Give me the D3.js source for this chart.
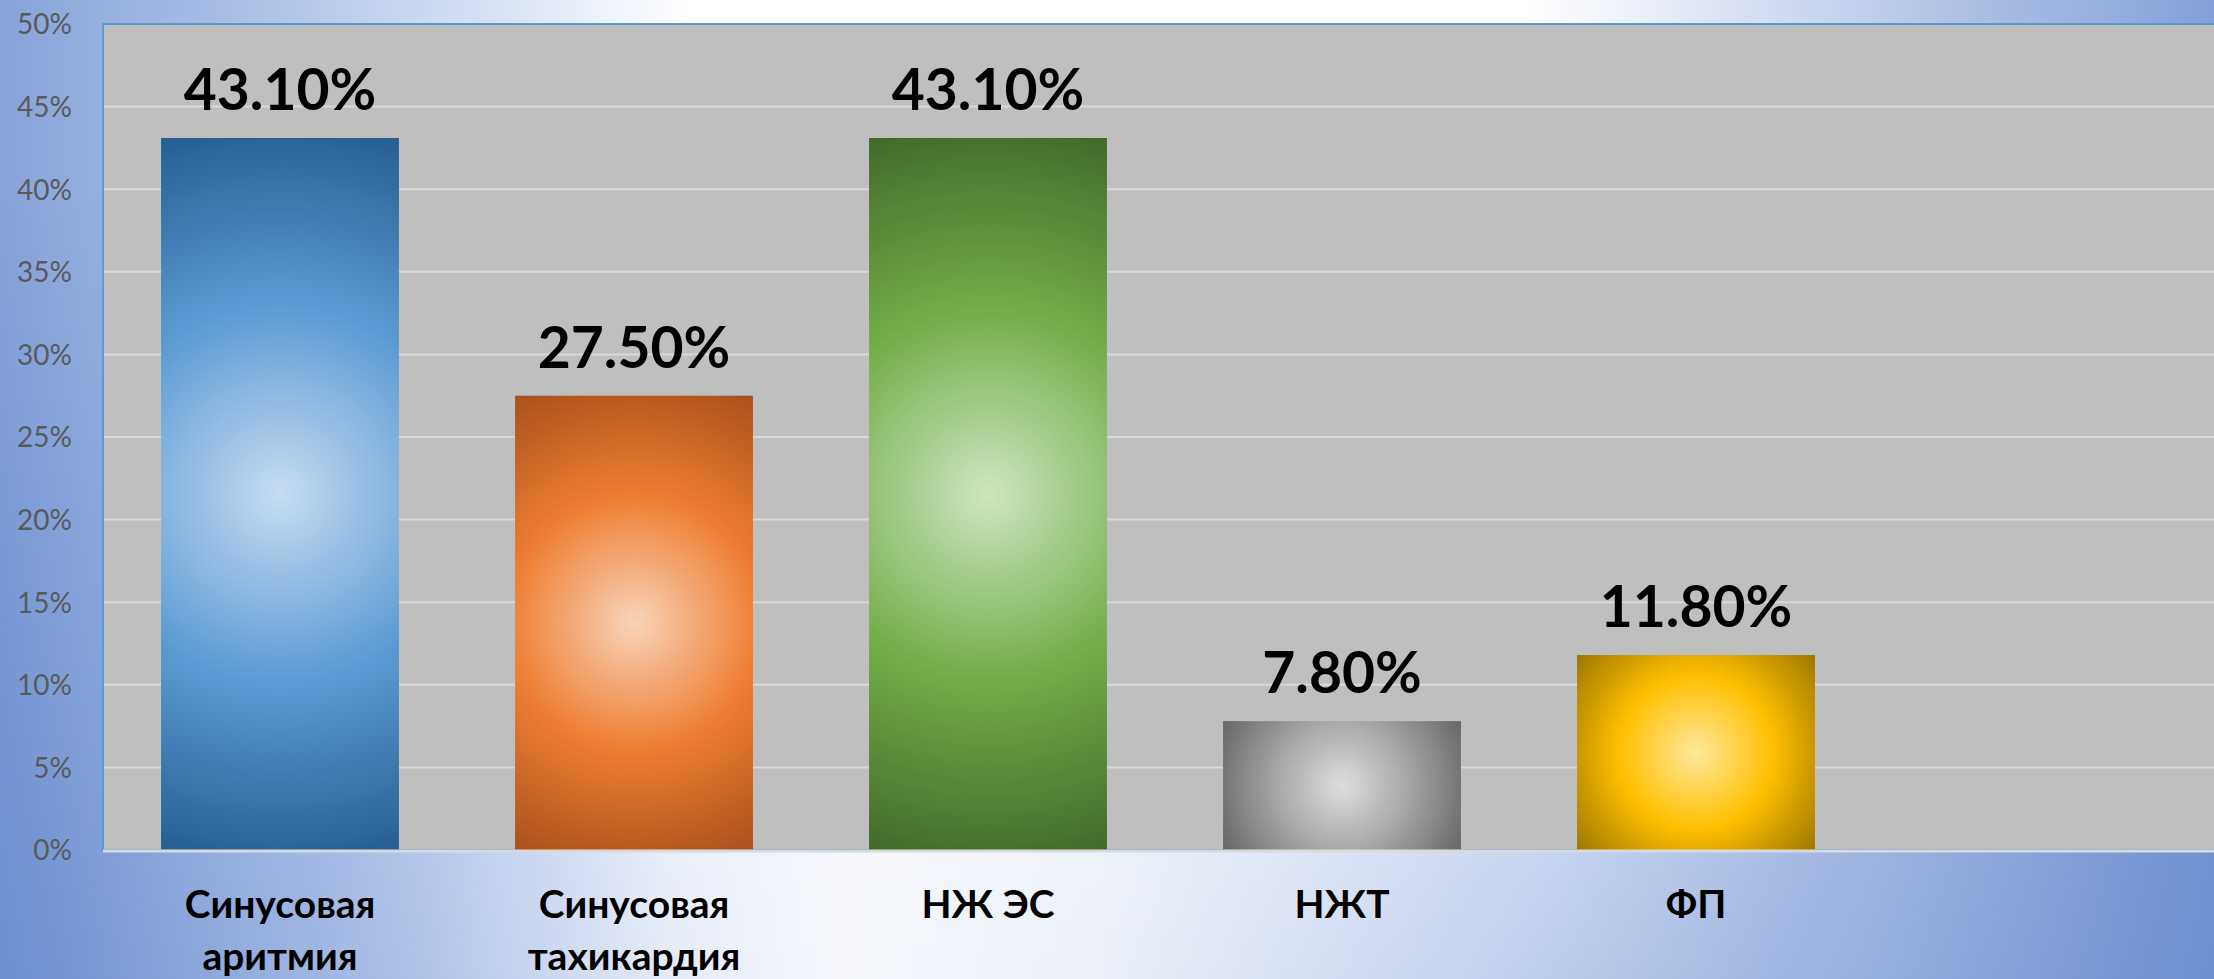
<!DOCTYPE html>
<html>

<head>
	<meta charset='utf-8' />
	<title></title>
	<script src="https://cdn.jsdelivr.net/npm/d3@7"></script>
	<style>
		body {
			margin: 0;
			overflow: hidden;
		}

		svg {
			display: block;
		}

		.y-axis text {
			font-family: Lato, 'Noto Sans', sans-serif;
			font-size: 28px;
			fill: #595959;
		}

		.value {
			font-family: Lato, 'Noto Sans', sans-serif;
			font-weight: bold;
			font-size: 57px;
			fill: #000;
		}

		.cat {
			font-family: Lato, 'Noto Sans', sans-serif;
			font-weight: bold;
			font-size: 39px;
			fill: #000;
		}
	</style>
</head>

<body>
	<svg id="chart" width="2214" height="979"></svg>

	<script>
		// data
		var categories = ["Синусовая\nаритмия", "Синусовая\nтахикардия", "НЖ ЭС", "НЖТ", "ФП"];
		var values = [43.1, 27.5, 43.1, 7.8, 11.8];
		var yTicks = [0, 5, 10, 15, 20, 25, 30, 35, 40, 45, 50];

		// bar colours (centre, middle, edge)
		var lightColors = ["#c6dcf1", "#f9d3b8", "#cfe5c0", "#dedede", "#ffe89c"];
		var baseColors = ["#5b9bd5", "#ed7d31", "#70ad47", "#a5a5a5", "#ffc000"];
		var darkColors = ["#255e91", "#a9501c", "#42692a", "#666666", "#9c7600"];

		var svg = d3.select("#chart"),
			W = +svg.attr("width"),
			H = +svg.attr("height"),
			margin = { top: 24, left: 103, bottom: 129 },
			plotBottom = H - margin.bottom;

		var data = categories.map((c, i) => ({ cat: c, value: values[i], i: i }));

		var x = d3.scaleBand()
			.domain(categories.concat([""]))
			.range([margin.left, margin.left + 6 * 354])
			.paddingInner(0.328)
			.paddingOuter(0.164);

		var y = d3.scaleLinear()
			.domain([0, 50])
			.range([plotBottom, margin.top]);

		var defs = svg.append("defs");

		// background: top and bottom horizontal gradients blended vertically
		var bgTop = defs.append("linearGradient").attr("id", "bgTop");
		[[0, "#86a3da"], [0.13, "#b3c5e9"], [0.26, "#e8eef9"], [0.31, "#ffffff"], [0.69, "#ffffff"],
		[0.77, "#dfe6f5"], [0.89, "#aebfe5"], [1, "#82a1d9"]].forEach(s =>
			bgTop.append("stop").attr("offset", s[0]).attr("stop-color", s[1]));

		var bgBot = defs.append("linearGradient").attr("id", "bgBot");
		[[0, "#6a8ed0"], [0.19, "#b0c2e8"], [0.3, "#e4eaf7"], [0.38, "#f5f7fc"], [0.5, "#eaeff8"],
		[0.64, "#ccd8f0"], [0.77, "#aabde5"], [0.89, "#8aa5db"], [1, "#6b8fd0"]].forEach(s =>
			bgBot.append("stop").attr("offset", s[0]).attr("stop-color", s[1]));

		var fade = defs.append("linearGradient").attr("id", "fade")
			.attr("x1", 0).attr("y1", 0).attr("x2", 0).attr("y2", 1);
		fade.append("stop").attr("offset", 0.2).attr("stop-color", "#000");
		fade.append("stop").attr("offset", 1).attr("stop-color", "#fff");
		defs.append("mask").attr("id", "fadeMask")
			.append("rect").attr("width", W).attr("height", H).attr("fill", "url(#fade)");

		svg.append("rect").attr("width", W).attr("height", H).attr("fill", "url(#bgTop)");
		svg.append("rect").attr("width", W).attr("height", H).attr("fill", "url(#bgBot)")
			.attr("mask", "url(#fadeMask)");

		// plot area
		var x0 = x.range()[0], x1 = x.range()[1];
		svg.append("rect")
			.attr("x", x0).attr("y", y(50))
			.attr("width", x1 - x0).attr("height", y(0) - y(50))
			.attr("fill", "#bfbfbf")
			.attr("stroke", "#5b9bd5")
			.attr("stroke-width", 2);

		// gridlines
		svg.append("g")
			.selectAll("line")
			.data(yTicks.filter(d => d > 0 && d < 50))
			.enter().append("line")
			.attr("x1", x0 + 1).attr("x2", x1)
			.attr("y1", d => y(d)).attr("y2", d => y(d))
			.attr("stroke", "#d9d9d9")
			.attr("stroke-width", 2);

		// y axis labels
		var yAxis = svg.append("g")
			.attr("class", "y-axis")
			.attr("transform", `translate(${margin.left},0)`)
			.call(d3.axisLeft(y).tickValues(yTicks).tickFormat(d => d + "%").tickSize(0).tickPadding(31));
		yAxis.select(".domain").remove();
		yAxis.selectAll("text").attr("dy", "0.35em");

		// bar gradients
		data.forEach(function (d) {
			var bw = x.bandwidth(), h = y(0) - y(d.value);
			var g = defs.append("radialGradient")
				.attr("id", "bar" + d.i)
				.attr("gradientUnits", "userSpaceOnUse")
				.attr("cx", x(d.cat) + bw / 2)
				.attr("cy", y(d.value) + h / 2)
				.attr("r", Math.sqrt(bw * bw / 4 + h * h / 4));
			g.append("stop").attr("offset", 0).attr("stop-color", lightColors[d.i]);
			g.append("stop").attr("offset", 0.5).attr("stop-color", baseColors[d.i]);
			g.append("stop").attr("offset", 1).attr("stop-color", darkColors[d.i]);
		});

		svg.append("g")
			.selectAll("rect")
			.data(data)
			.enter().append("rect")
			.attr("x", d => x(d.cat))
			.attr("y", d => y(d.value))
			.attr("width", x.bandwidth())
			.attr("height", d => y(0) - y(d.value))
			.attr("fill", d => "url(#bar" + d.i + ")");

		// category axis line
		svg.append("line")
			.attr("x1", x0).attr("x2", x1)
			.attr("y1", y(0) + 1).attr("y2", y(0) + 1)
			.attr("stroke", "#d9d9d9")
			.attr("stroke-width", 3);

		// value labels
		const f = d3.format(".2f");
		svg.append("g")
			.selectAll("text")
			.data(data)
			.enter().append("text")
			.attr("class", "value")
			.attr("text-anchor", "middle")
			.attr("x", d => x(d.cat) + x.bandwidth() / 2)
			.attr("y", d => y(d.value) - 28)
			.text(d => f(d.value) + "%");

		// category labels
		var cats = svg.append("g")
			.selectAll("text")
			.data(data)
			.enter().append("text")
			.attr("class", "cat")
			.attr("text-anchor", "middle")
			.attr("x", d => x(d.cat) + x.bandwidth() / 2)
			.attr("y", plotBottom + 68);

		cats.selectAll("tspan")
			.data(d => d.cat.split("\n").map(t => ({ t: t, cx: x(d.cat) + x.bandwidth() / 2 })))
			.enter().append("tspan")
			.attr("x", t => t.cx)
			.attr("dy", (t, i) => i ? 52 : 0)
			.text(t => t.t);
	</script>
</body>

</html>
